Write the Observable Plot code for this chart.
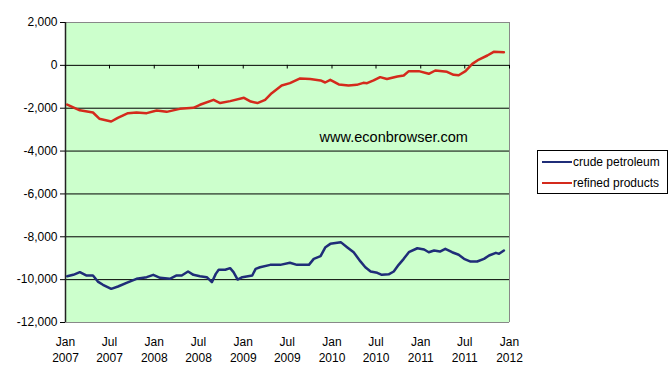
<!DOCTYPE html>
<html>
<head>
<meta charset="utf-8">
<script src="https://cdn.jsdelivr.net/npm/d3@7"></script>
<script src="https://cdn.jsdelivr.net/npm/@observablehq/plot@0.6"></script>
<style>
  html, body { margin: 0; padding: 0; background: #fff; }
  #wrap { position: relative; width: 671px; height: 380px; font-family: "Liberation Sans", Arial, sans-serif; }
  #legend { position: absolute; left: 537px; top: 150px; width: 129px; height: 42px; border: 1px solid #000; background: #fff; font-size: 12px; color: #000; }
  .item { position: absolute; left: 4px; height: 14px; line-height: 14px; white-space: nowrap; }
  .swatch { display: inline-block; width: 30px; height: 2px; vertical-align: middle; margin-right: 1px; position: relative; top: -1px; }
</style>
</head>
<body>
<div id="wrap"></div>
<script>
// ---- data ----
const crudeDates = ["2007-01-08","2007-02-02","2007-03-01","2007-03-27","2007-04-24","2007-05-14","2007-06-04","2007-07-08","2007-08-05","2007-09-09","2007-10-20","2007-12-01","2007-12-28","2008-01-25","2008-03-05","2008-04-02","2008-04-23","2008-05-19","2008-06-10","2008-07-07","2008-08-04","2008-08-25","2008-09-10","2008-09-22","2008-10-19","2008-11-08","2008-11-22","2008-12-09","2008-12-28","2009-02-07","2009-02-21","2009-03-11","2009-04-22","2009-06-02","2009-07-12","2009-08-10","2009-09-28","2009-10-18","2009-11-15","2009-12-05","2009-12-25","2010-02-06","2010-03-04","2010-03-31","2010-04-28","2010-05-18","2010-06-09","2010-07-06","2010-07-25","2010-08-22","2010-09-12","2010-10-02","2010-10-23","2010-11-13","2010-12-18","2011-01-15","2011-02-03","2011-02-25","2011-03-21","2011-04-12","2011-05-10","2011-06-06","2011-06-28","2011-07-25","2011-08-21","2011-09-18","2011-10-09","2011-11-06","2011-11-19","2011-12-09"];
const crudeValues = [-9840,-9775,-9650,-9805,-9805,-10090,-10240,-10430,-10320,-10150,-9960,-9885,-9775,-9915,-9960,-9805,-9805,-9620,-9775,-9840,-9885,-10120,-9730,-9540,-9540,-9465,-9650,-9995,-9885,-9805,-9495,-9420,-9310,-9310,-9215,-9310,-9310,-9030,-8905,-8485,-8330,-8250,-8485,-8720,-9150,-9420,-9620,-9680,-9775,-9750,-9620,-9310,-9030,-8720,-8535,-8595,-8720,-8640,-8690,-8560,-8720,-8840,-9030,-9155,-9155,-9030,-8875,-8750,-8795,-8640];

const refinedDates = ["2007-01-08","2007-03-01","2007-04-24","2007-05-20","2007-07-08","2007-08-04","2007-09-15","2007-10-20","2007-12-01","2008-01-11","2008-02-21","2008-04-15","2008-06-10","2008-07-07","2008-09-01","2008-09-28","2008-11-08","2009-01-04","2009-02-01","2009-02-28","2009-04-01","2009-04-28","2009-06-08","2009-07-12","2009-08-23","2009-10-03","2009-11-15","2009-12-04","2009-12-25","2010-01-29","2010-03-10","2010-04-13","2010-05-10","2010-05-25","2010-06-21","2010-07-18","2010-08-15","2010-09-27","2010-10-23","2010-11-13","2010-12-24","2011-02-03","2011-03-02","2011-04-19","2011-05-16","2011-06-06","2011-07-04","2011-08-01","2011-08-28","2011-10-02","2011-10-28","2011-12-09"];
const refinedValues = [-1830,-2100,-2200,-2490,-2620,-2450,-2230,-2200,-2230,-2110,-2170,-2030,-1980,-1840,-1610,-1760,-1670,-1515,-1690,-1760,-1610,-1300,-940,-830,-610,-640,-705,-800,-675,-890,-940,-910,-815,-830,-705,-550,-640,-520,-475,-270,-270,-395,-240,-300,-440,-460,-270,70,270,460,630,615];

const seriesNames = ["crude petroleum", "refined products"];
const seriesColors = ["#1f2d78", "#d42a1c"];
const yTicks = [-12000, -10000, -8000, -6000, -4000, -2000, 0, 2000];
const gridValues = [-10000, -8000, -6000, -4000, -2000, 0];
const xTickLabels = ["2007-01-01","2007-07-01","2008-01-01","2008-07-01","2009-01-01","2009-07-01","2010-01-01","2010-07-01","2011-01-01","2011-07-01","2012-01-01"];
const xDomain = ["2007-01-01", "2012-01-01"];
const watermark = [{date: "2010-09-12", value: -3367, text: "www.econbrowser.com"}];

// ---- build ----
const parse = d3.utcParse("%Y-%m-%d");
const crude = crudeDates.map((d, i) => ({date: parse(d), value: crudeValues[i]}));
const refined = refinedDates.map((d, i) => ({date: parse(d), value: refinedValues[i]}));
const xTicks = xTickLabels.map(parse);
const [x0, x1] = xDomain.map(parse);
const monthName = d3.utcFormat("%b");
const yearName = d3.utcFormat("%Y");

const chart = Plot.plot({
  width: 671,
  height: 380,
  marginLeft: 65,
  marginRight: 162,
  marginTop: 22,
  marginBottom: 58,
  style: {fontFamily: "'Liberation Sans', Arial, sans-serif", fontSize: "12px", color: "#000", background: "transparent"},
  x: {type: "utc", domain: [x0, x1]},
  y: {domain: [-12000, 2000]},
  marks: [
    Plot.frame({fill: "#ccffcc", stroke: null}),
    Plot.ruleY(gridValues, {stroke: "#000", strokeWidth: 1}),
    Plot.ruleY([2000, -12000], {stroke: "#888", strokeWidth: 1}),
    Plot.ruleX([x1], {stroke: "#888", strokeWidth: 1}),
    Plot.ruleX([x0], {stroke: "#222", strokeWidth: 1.5}),
    Plot.ruleX(xTicks, {x: d => d, y1: 0, y2: -170, stroke: "#000", strokeWidth: 1}),
    Plot.axisY({ticks: yTicks, tickSize: 5, tickPadding: 3, fontSize: 12, stroke: "#000", label: null,
      tickFormat: d => d.toLocaleString("en-US")}),
    Plot.axisX({ticks: xTicks, tickSize: 0, tickPadding: 12, fontSize: 12, lineHeight: 1.33, label: null,
      tickFormat: d => monthName(d) + "\n" + yearName(d)}),
    Plot.text(watermark, {x: d => parse(d.date), y: "value", text: "text", fontSize: 14.5, fill: "#000"}),
    Plot.line(crude, {x: "date", y: "value", stroke: seriesColors[0], strokeWidth: 2.5}),
    Plot.line(refined, {x: "date", y: "value", stroke: seriesColors[1], strokeWidth: 2.5})
  ]
});

const wrap = document.getElementById("wrap");
wrap.appendChild(chart);
const legend = document.createElement("div");
legend.id = "legend";
seriesNames.forEach((name, i) => {
  const item = document.createElement("div");
  item.className = "item";
  item.style.top = (4 + i * 21) + "px";
  item.innerHTML = `<span class="swatch" style="background:${seriesColors[i]}"></span>${name}`;
  legend.appendChild(item);
});
wrap.appendChild(legend);
</script>
</body>
</html>
